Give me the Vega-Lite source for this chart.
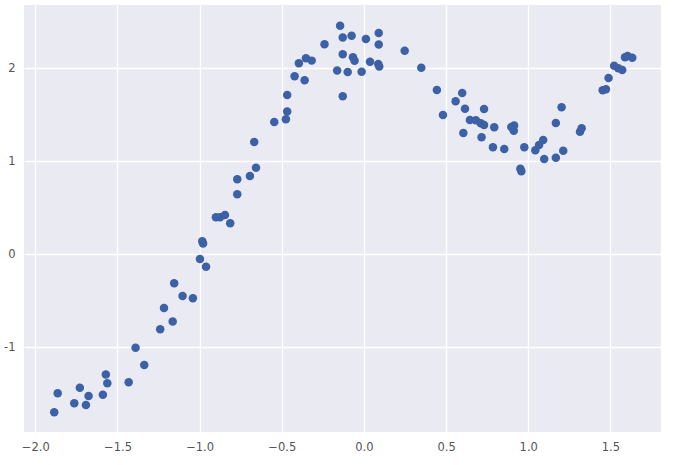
{
  "$schema": "https://vega.github.io/schema/vega-lite/v6.json",
  "width": 637,
  "height": 427,
  "autosize": {"type": "none"},
  "padding": {"left": 24, "top": 5, "right": 14, "bottom": 33},
  "background": "#ffffff",
  "config": {
    "view": {"fill": "#EAEAF2", "stroke": null},
    "axis": {
      "domain": false,
      "ticks": false,
      "grid": true,
      "gridColor": "#ffffff",
      "gridWidth": 1.3,
      "labelColor": "#555555",
      "labelFont": "DejaVu Sans",
      "labelFontSize": 11.5,
      "title": null
    }
  },
  "data": {
    "values": [
      {"x": -1.885, "y": -1.699},
      {"x": -1.864, "y": -1.495},
      {"x": -1.763, "y": -1.602},
      {"x": -1.729, "y": -1.434},
      {"x": -1.692, "y": -1.620},
      {"x": -1.676, "y": -1.524},
      {"x": -1.589, "y": -1.510},
      {"x": -1.571, "y": -1.294},
      {"x": -1.562, "y": -1.387},
      {"x": -1.432, "y": -1.376},
      {"x": -1.390, "y": -1.004},
      {"x": -1.337, "y": -1.190},
      {"x": -1.240, "y": -0.806},
      {"x": -1.217, "y": -0.577},
      {"x": -1.164, "y": -0.724},
      {"x": -1.155, "y": -0.312},
      {"x": -1.104, "y": -0.448},
      {"x": -1.041, "y": -0.473},
      {"x": -0.998, "y": -0.051},
      {"x": -0.984, "y": 0.140},
      {"x": -0.979, "y": 0.115},
      {"x": -0.961, "y": -0.135},
      {"x": -0.901, "y": 0.398},
      {"x": -0.876, "y": 0.398},
      {"x": -0.846, "y": 0.423},
      {"x": -0.814, "y": 0.333},
      {"x": -0.771, "y": 0.645},
      {"x": -0.771, "y": 0.806},
      {"x": -0.694, "y": 0.842},
      {"x": -0.657, "y": 0.931},
      {"x": -0.668, "y": 1.208},
      {"x": -0.546, "y": 1.423},
      {"x": -0.475, "y": 1.452},
      {"x": -0.467, "y": 1.534},
      {"x": -0.467, "y": 1.713},
      {"x": -0.422, "y": 1.914},
      {"x": -0.361, "y": 1.871},
      {"x": -0.396, "y": 2.054},
      {"x": -0.353, "y": 2.108},
      {"x": -0.318, "y": 2.082},
      {"x": -0.240, "y": 2.258},
      {"x": -0.145, "y": 2.457},
      {"x": -0.129, "y": 2.331},
      {"x": -0.075, "y": 2.349},
      {"x": -0.129, "y": 2.151},
      {"x": -0.067, "y": 2.118},
      {"x": -0.057, "y": 2.080},
      {"x": -0.163, "y": 1.976},
      {"x": -0.099, "y": 1.960},
      {"x": -0.014, "y": 1.962},
      {"x": -0.129, "y": 1.700},
      {"x": 0.012, "y": 2.315},
      {"x": 0.090, "y": 2.378},
      {"x": 0.090, "y": 2.256},
      {"x": 0.037, "y": 2.071},
      {"x": 0.087, "y": 2.046},
      {"x": 0.093, "y": 2.020},
      {"x": 0.248, "y": 2.189},
      {"x": 0.349, "y": 2.006},
      {"x": 0.444, "y": 1.767},
      {"x": 0.481, "y": 1.498},
      {"x": 0.598, "y": 1.733},
      {"x": 0.558, "y": 1.645},
      {"x": 0.615, "y": 1.564},
      {"x": 0.605, "y": 1.305},
      {"x": 0.645, "y": 1.444},
      {"x": 0.681, "y": 1.440},
      {"x": 0.711, "y": 1.409},
      {"x": 0.731, "y": 1.562},
      {"x": 0.731, "y": 1.390},
      {"x": 0.716, "y": 1.258},
      {"x": 0.793, "y": 1.366},
      {"x": 0.785, "y": 1.150},
      {"x": 0.854, "y": 1.132},
      {"x": 0.897, "y": 1.368},
      {"x": 0.914, "y": 1.385},
      {"x": 0.912, "y": 1.328},
      {"x": 0.952, "y": 0.920},
      {"x": 0.958, "y": 0.892},
      {"x": 0.976, "y": 1.150},
      {"x": 1.043, "y": 1.118},
      {"x": 1.066, "y": 1.175},
      {"x": 1.091, "y": 1.229},
      {"x": 1.097, "y": 1.023},
      {"x": 1.168, "y": 1.038},
      {"x": 1.168, "y": 1.412},
      {"x": 1.213, "y": 1.114},
      {"x": 1.203, "y": 1.581},
      {"x": 1.315, "y": 1.318},
      {"x": 1.325, "y": 1.355},
      {"x": 1.453, "y": 1.763},
      {"x": 1.473, "y": 1.774},
      {"x": 1.489, "y": 1.896},
      {"x": 1.523, "y": 2.028},
      {"x": 1.548, "y": 2.000},
      {"x": 1.572, "y": 1.982},
      {"x": 1.589, "y": 2.118},
      {"x": 1.605, "y": 2.132},
      {"x": 1.633, "y": 2.114}
    ]
  },
  "mark": {"type": "point", "filled": true, "opacity": 1, "color": "#3C61A6", "size": 72},
  "encoding": {
    "x": {
      "field": "x",
      "type": "quantitative",
      "scale": {"domain": [-2.069, 1.808], "nice": false, "zero": false},
      "axis": {"values": [-2, -1.5, -1, -0.5, 0, 0.5, 1, 1.5], "format": ".1f", "labelPadding": 9}
    },
    "y": {
      "field": "y",
      "type": "quantitative",
      "scale": {"domain": [-1.911, 2.68], "nice": false, "zero": false},
      "axis": {"values": [-1, 0, 1, 2], "labelExpr": "datum.value < 0 ? '-' + abs(datum.value) : datum.label", "labelPadding": 9}
    }
  }
}
